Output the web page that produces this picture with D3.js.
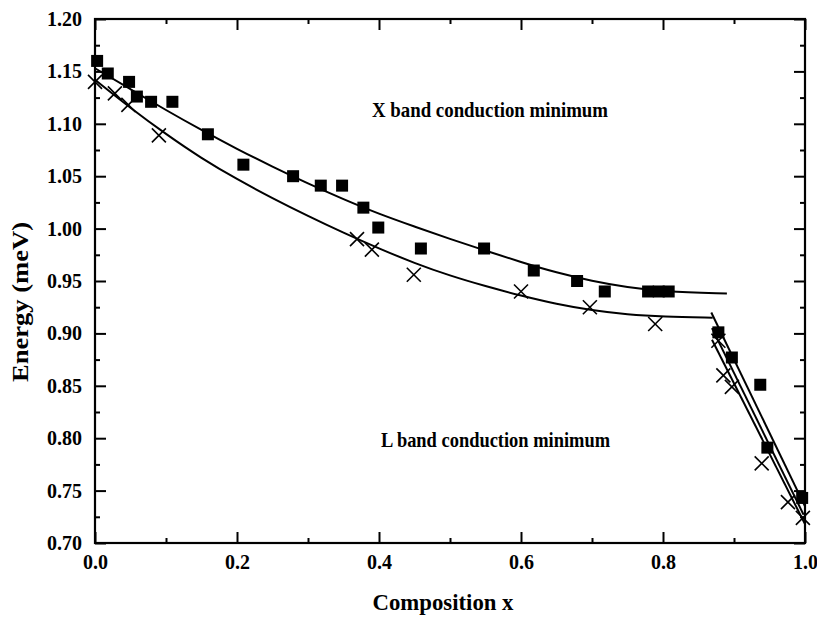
<!DOCTYPE html>
<html><head><meta charset="utf-8">
<script src="https://cdn.jsdelivr.net/npm/d3@7"></script>
<style>
body{margin:0;background:#fff}
svg{display:block}
text{font-family:"Liberation Serif","Times New Roman",serif;font-weight:bold;fill:#000}
</style>
</head><body><svg id="c" width="817" height="620"></svg>
<script>
// X band data (filled squares)
const squareX = [0.003,0.018,0.048,0.059,0.079,0.109,0.159,0.209,0.279,0.318,0.348,0.378,0.399,0.459,0.548,0.618,0.679,0.718,0.779,0.794,0.808,0.878,0.897,0.937,0.947,0.996];
const squareE = [1.160,1.148,1.140,1.126,1.121,1.121,1.090,1.061,1.050,1.041,1.041,1.020,1.001,0.981,0.981,0.960,0.950,0.940,0.940,0.940,0.940,0.901,0.877,0.851,0.791,0.743];
// second data set (crosses)
const crossX = [0.0,0.028,0.047,0.090,0.369,0.390,0.449,0.600,0.697,0.789,0.878,0.885,0.897,0.939,0.976,0.997];
const crossE = [1.140,1.129,1.118,1.089,0.990,0.980,0.956,0.940,0.925,0.909,0.893,0.860,0.849,0.776,0.739,0.724];
// fitted curves
const upperFitX = [0,0.05,0.1,0.15,0.2,0.25,0.3,0.35,0.4,0.45,0.5,0.55,0.6,0.65,0.7,0.75,0.8,0.89];
const upperFitE = [1.153,1.133,1.113,1.094,1.076,1.059,1.043,1.028,1.014,1.002,0.990,0.979,0.968,0.958,0.950,0.944,0.940,0.938];
const lowerFitX = [0,0.05,0.1,0.15,0.2,0.25,0.3,0.35,0.4,0.45,0.5,0.55,0.6,0.65,0.7,0.75,0.8,0.87];
const lowerFitE = [1.142,1.115,1.090,1.067,1.047,1.029,1.012,0.996,0.981,0.967,0.955,0.945,0.936,0.928,0.922,0.918,0.916,0.915];
// steep L-band fit lines
const steepX0 = [0.868,0.869,0.869];
const steepE0 = [0.920,0.905,0.894];
const steepX1 = [1.0,0.998,1.0];
const steepE1 = [0.735,0.727,0.718];
// ticks
const xMajor = [0,0.2,0.4,0.6,0.8,1.0];
const xMinor = [0.1,0.3,0.5,0.7,0.9];
const yMajor = [0.70,0.75,0.80,0.85,0.90,0.95,1.00,1.05,1.10,1.15,1.20];
const yMinor = [0.725,0.775,0.825,0.875,0.925,0.975,1.025,1.075,1.125,1.175];

const svg = d3.select("#c");
const L = 95, R = 805, T = 19, B = 543;
const x = d3.scaleLinear().domain([0,1]).range([L,R]);
const y = d3.scaleLinear().domain([0.70,1.20]).range([B,T]);

const fs = 20;
function styleAxis(g){ g.select(".domain").remove(); g.selectAll("line").attr("stroke","#000").attr("stroke-width",2); g.selectAll("text").attr("font-size",fs).attr("font-family",null); }

svg.append("g").attr("transform",`translate(0,${B})`)
  .call(d3.axisBottom(x).tickValues(xMajor).tickSize(-11).tickPadding(12).tickFormat(d3.format(".1f"))).call(styleAxis);
svg.append("g").attr("transform",`translate(0,${B})`)
  .call(d3.axisBottom(x).tickValues(xMinor).tickSize(-5).tickFormat("")).call(styleAxis);
svg.append("g").attr("transform",`translate(0,${T})`)
  .call(d3.axisTop(x).tickValues(xMajor).tickSize(-11).tickFormat("")).call(styleAxis);
svg.append("g").attr("transform",`translate(0,${T})`)
  .call(d3.axisTop(x).tickValues(xMinor).tickSize(-5).tickFormat("")).call(styleAxis);
svg.append("g").attr("transform",`translate(${L},0)`)
  .call(d3.axisLeft(y).tickValues(yMajor).tickSize(-11).tickPadding(13).tickFormat(d3.format(".2f"))).call(styleAxis);
svg.append("g").attr("transform",`translate(${L},0)`)
  .call(d3.axisLeft(y).tickValues(yMinor).tickSize(-5).tickFormat("")).call(styleAxis);
svg.append("g").attr("transform",`translate(${R},0)`)
  .call(d3.axisRight(y).tickValues(yMajor).tickSize(-11).tickFormat("")).call(styleAxis);
svg.append("g").attr("transform",`translate(${R},0)`)
  .call(d3.axisRight(y).tickValues(yMinor).tickSize(-5).tickFormat("")).call(styleAxis);

svg.append("rect").attr("x",L).attr("y",T).attr("width",R-L).attr("height",B-T)
  .attr("fill","none").attr("stroke","#000").attr("stroke-width",2.2);

const plot = svg.append("g");
const line = d3.line().x(d=>x(d[0])).y(d=>y(d[1])).curve(d3.curveBasis);
plot.append("path").attr("d", line(upperFitX.map((v,i)=>[v,upperFitE[i]])))
  .attr("fill","none").attr("stroke","#000").attr("stroke-width",2);
plot.append("path").attr("d", line(lowerFitX.map((v,i)=>[v,lowerFitE[i]])))
  .attr("fill","none").attr("stroke","#000").attr("stroke-width",2);
steepX0.forEach((v,i)=>{
  plot.append("line").attr("x1",x(v)).attr("y1",y(steepE0[i])).attr("x2",x(steepX1[i])).attr("y2",y(steepE1[i]))
    .attr("stroke","#000").attr("stroke-width",2);
});

const sq = 12;
plot.selectAll("rect.sq").data(squareX.map((v,i)=>[v,squareE[i]])).enter().append("rect")
  .attr("class","sq").attr("x",d=>x(d[0])-sq/2).attr("y",d=>y(d[1])-sq/2)
  .attr("width",sq).attr("height",sq).attr("fill","#000");

const cs = 7;
const crosses = plot.selectAll("g.cr").data(crossX.map((v,i)=>[v,crossE[i]])).enter().append("g")
  .attr("class","cr").attr("transform",d=>`translate(${x(d[0])},${y(d[1])})`);
crosses.append("line").attr("x1",-cs).attr("y1",-cs).attr("x2",cs).attr("y2",cs).attr("stroke","#000").attr("stroke-width",1.6);
crosses.append("line").attr("x1",-cs).attr("y1",cs).attr("x2",cs).attr("y2",-cs).attr("stroke","#000").attr("stroke-width",1.6);

svg.append("text").attr("x",372).attr("y",117).attr("font-size",21).attr("textLength",236).attr("lengthAdjust","spacingAndGlyphs").text("X band conduction minimum");
svg.append("text").attr("x",381).attr("y",447).attr("font-size",21).attr("textLength",229).attr("lengthAdjust","spacingAndGlyphs").text("L band conduction minimum");
svg.append("text").attr("x",443).attr("y",610).attr("text-anchor","middle").attr("font-size",23).attr("textLength",141).attr("lengthAdjust","spacingAndGlyphs").text("Composition x");
svg.append("text").attr("transform","translate(28,302) rotate(-90)").attr("text-anchor","middle").attr("font-size",24).attr("textLength",160).attr("lengthAdjust","spacingAndGlyphs").text("Energy (meV)");
</script>
</body></html>
